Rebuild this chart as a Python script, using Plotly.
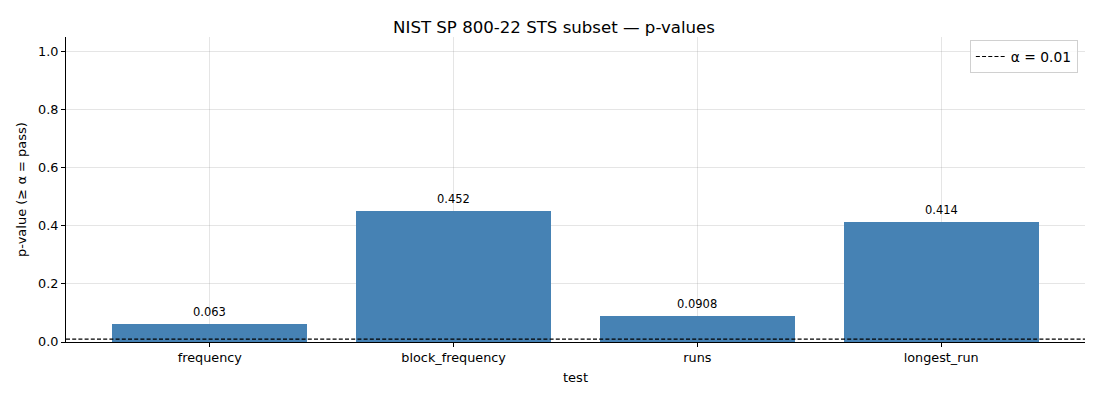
import plotly.graph_objects as go

tests = ['frequency', 'block_frequency', 'runs', 'longest_run']
p_values = [0.063, 0.452, 0.0908, 0.414]
labels = ['0.063', '0.452', '0.0908', '0.414']
alpha = 0.01

font = 'DejaVu Sans'

fig = go.Figure()
fig.add_trace(go.Bar(
    x=tests, y=p_values, width=0.8,
    marker=dict(color='#4682b4', line=dict(width=0)),
    showlegend=False,
))

# threshold line across the whole axis, shown in the legend
fig.add_shape(
    type='line', xref='paper', x0=0, x1=1, yref='y', y0=alpha, y1=alpha,
    line=dict(color='black', width=1.1, dash='4px,2.2px'),
    showlegend=True, name='α = %g' % alpha,
)

for t, v, s in zip(tests, p_values, labels):
    fig.add_annotation(
        x=t, y=v, text=s, showarrow=False, yanchor='bottom', yshift=3,
        font=dict(family=font, size=11.5, color='black'),
    )

# the page body adds an 8px offset, so the figure is 8px smaller
fig.update_layout(
    width=1092, height=392,
    margin=dict(l=58, r=15, t=29, b=58),
    paper_bgcolor='white', plot_bgcolor='white',
    font=dict(family=font, size=12.8, color='black'),
    title=dict(text='NIST SP 800-22 STS subset — p-values',
               x=0.5, xanchor='center', y=0.965, yanchor='top',
               font=dict(family=font, size=16.6)),
    legend=dict(x=0.993, xanchor='right', y=0.99, yanchor='top',
                bgcolor='rgba(255,255,255,0.8)', bordercolor='#d0d0d0',
                borderwidth=1, font=dict(size=13.8)),
    bargap=0,
)
fig.update_xaxes(
    title=dict(text='test', font=dict(size=13), standoff=8),
    range=[-0.59, 3.59], showline=True, linecolor='black', linewidth=1,
    ticks='outside', ticklen=4, tickcolor='black',
    showgrid=True, gridcolor='rgba(150,150,150,0.25)', gridwidth=1,
    layer='above traces', zeroline=False, automargin=False,
)
fig.update_yaxes(
    title=dict(text='p-value (≥ α = pass)', font=dict(size=13), standoff=8),
    range=[0, 1.05], dtick=0.2, tickformat='.1f',
    showline=True, linecolor='black', linewidth=1,
    ticks='outside', ticklen=4, tickcolor='black',
    showgrid=True, gridcolor='rgba(150,150,150,0.25)', gridwidth=1,
    layer='above traces', zeroline=False, automargin=False,
)

fig.write_html('out.html')
